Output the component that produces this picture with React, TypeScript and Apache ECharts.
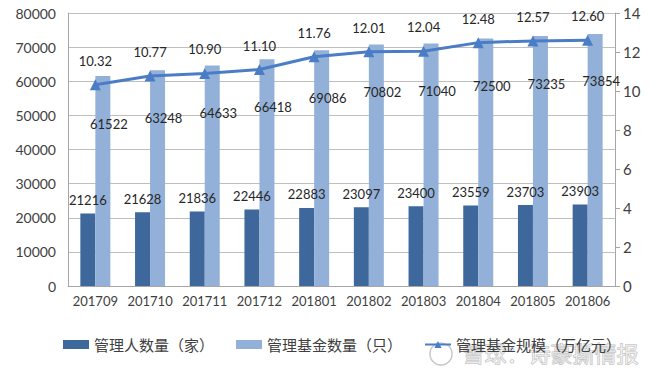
import React, { useEffect, useRef } from "react";
import * as echarts from "echarts";

const categories = ["201709", "201710", "201711", "201712", "201801", "201802", "201803", "201804", "201805", "201806"];
const managers = [21216, 21628, 21836, 22446, 22883, 23097, 23400, 23559, 23703, 23903];
const funds = [61522, 63248, 64633, 66418, 69086, 70802, 71040, 72500, 73235, 73854];
const scale = [10.32, 10.77, 10.9, 11.1, 11.76, 12.01, 12.04, 12.48, 12.57, 12.6];
const leftTicks = { min: 0, max: 80000, interval: 10000 };
const rightTicks = { min: 0, max: 14, interval: 2 };

const NUM_FONT = "Lato, 'Noto Sans', sans-serif";
const CJK_FONT = "'Noto Sans CJK SC', sans-serif";

export default function App() {
  const ref = useRef<HTMLDivElement>(null);
  useEffect(() => {
    if (!ref.current) return;
    const chart = echarts.init(ref.current, undefined, { renderer: "svg" });
    chart.setOption({
      animation: false,
      backgroundColor: "#ffffff",
      grid: { left: 68, right: 45, top: 13, bottom: 83, containLabel: false },
      legend: {
        bottom: 12,
        left: 58,
        itemWidth: 26,
        itemHeight: 9,
        itemGap: 22,
        textStyle: { fontFamily: CJK_FONT, fontSize: 15, color: "#404040" },
        data: [
          { name: "管理人数量（家）", icon: "rect" },
          { name: "管理基金数量（只）", icon: "rect" },
          { name: "管理基金规模（万亿元）" },
        ],
      },
      xAxis: {
        type: "category",
        data: categories,
        axisLine: { lineStyle: { color: "#a6a6a6" } },
        axisTick: { show: false },
        axisLabel: { interval: 0, fontFamily: NUM_FONT, fontSize: 13, color: "#404040", margin: 8 },
      },
      yAxis: [
        {
          type: "value",
          ...leftTicks,
          axisLine: { show: true, lineStyle: { color: "#a6a6a6" } },
          axisTick: { show: false },
          splitLine: { lineStyle: { color: "#bfbfbf" } },
          axisLabel: {
            formatter: (v: number) => String(v),
            fontFamily: NUM_FONT,
            fontSize: 14,
            color: "#404040",
            margin: 12,
          },
        },
        {
          type: "value",
          ...rightTicks,
          position: "right",
          axisLine: { show: true, lineStyle: { color: "#a6a6a6" } },
          axisTick: { show: true, length: 5, lineStyle: { color: "#a6a6a6" } },
          splitLine: { show: false },
          axisLabel: { fontFamily: NUM_FONT, fontSize: 15, color: "#404040", margin: 8 },
        },
      ],
      series: [
        {
          name: "管理人数量（家）",
          type: "bar",
          data: managers,
          barWidth: 15,
          barGap: "0%",
          itemStyle: { color: "#3E679C" },
          label: {
            show: true,
            position: "top",
            distance: 7,
            fontFamily: NUM_FONT,
            fontSize: 13,
            color: "#262626",
          },
        },
        {
          name: "管理基金数量（只）",
          type: "bar",
          data: funds,
          barWidth: 15,
          itemStyle: { color: "#93B1D8" },
          label: {
            show: true,
            position: "insideTop",
            offset: [6, 36],
            fontFamily: NUM_FONT,
            fontSize: 13,
            color: "#262626",
          },
        },
        {
          name: "管理基金规模（万亿元）",
          type: "line",
          yAxisIndex: 1,
          data: scale,
          symbol: "triangle",
          symbolSize: 11,
          lineStyle: { color: "#4A7DC6", width: 3 },
          itemStyle: { color: "#4A7DC6" },
          label: {
            show: true,
            position: "top",
            distance: 12,
            formatter: (p: any) => Number(p.value).toFixed(2),
            fontFamily: NUM_FONT,
            fontSize: 13,
            color: "#262626",
          },
        },
      ],
      graphic: [
        {
          type: "circle",
          shape: { cx: 441, cy: 354, r: 11 },
          style: { fill: "none", stroke: "#c8c8c8", lineWidth: 1.5 },
          silent: true,
        },
        {
          type: "text",
          left: 462,
          top: 340,
          silent: true,
          style: {
            text: "雪球：诗豪撕情报",
            fontFamily: CJK_FONT,
            fontSize: 22,
            fill: "rgba(255,255,255,0.5)",
            stroke: "#c0c0c0",
            lineWidth: 1,
          },
        },
      ],
    });
    return () => chart.dispose();
  }, []);
  return <div ref={ref} style={{ width: 660, height: 369, position: "absolute", left: 0, top: 0 }} />;
}
